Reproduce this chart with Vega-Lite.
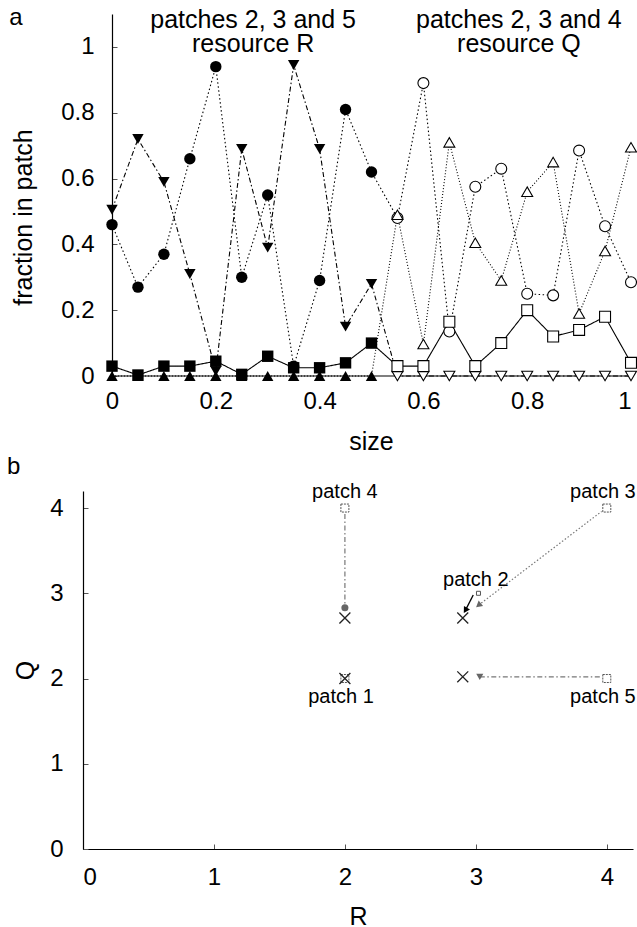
{
  "$schema": "https://vega.github.io/schema/vega-lite/v6.json",
  "background": "white",
  "padding": {"left": 7, "top": 5, "right": 0, "bottom": 0},
  "config": {
    "view": {"stroke": null},
    "font": "Liberation Sans",
    "axis": {"domainColor": "black", "domainWidth": 1.2, "tickColor": "#555", "tickSize": -5, "grid": false,
      "labelFont": "Liberation Sans", "labelFontSize": 24, "labelColor": "black",
      "titleFont": "Liberation Sans", "titleFontSize": 25, "titleFontWeight": "normal", "titleColor": "black"},
    "text": {"font": "Liberation Sans", "color": "black"}
  },
  "datasets": {
    "frac": [
      {"size": 0, "frac": 0.46, "series": "circle"}, {"size": 0.05, "frac": 0.27, "series": "circle"}, {"size": 0.1, "frac": 0.37, "series": "circle"}, {"size": 0.15, "frac": 0.66, "series": "circle"}, {"size": 0.2, "frac": 0.94, "series": "circle"}, {"size": 0.25, "frac": 0.30, "series": "circle"}, {"size": 0.3, "frac": 0.55, "series": "circle"}, {"size": 0.35, "frac": 0.03, "series": "circle"}, {"size": 0.4, "frac": 0.29, "series": "circle"}, {"size": 0.45, "frac": 0.81, "series": "circle"}, {"size": 0.5, "frac": 0.62, "series": "circle"}, {"size": 0.55, "frac": 0.48, "series": "circle"}, {"size": 0.6, "frac": 0.89, "series": "circle"}, {"size": 0.65, "frac": 0.135, "series": "circle"}, {"size": 0.7, "frac": 0.575, "series": "circle"}, {"size": 0.75, "frac": 0.63, "series": "circle"}, {"size": 0.8, "frac": 0.25, "series": "circle"}, {"size": 0.85, "frac": 0.245, "series": "circle"}, {"size": 0.9, "frac": 0.685, "series": "circle"}, {"size": 0.95, "frac": 0.455, "series": "circle"}, {"size": 1, "frac": 0.285, "series": "circle"},
      {"size": 0, "frac": 0.505, "series": "triangle-down"}, {"size": 0.05, "frac": 0.72, "series": "triangle-down"}, {"size": 0.1, "frac": 0.59, "series": "triangle-down"}, {"size": 0.15, "frac": 0.31, "series": "triangle-down"}, {"size": 0.2, "frac": 0.015, "series": "triangle-down"}, {"size": 0.25, "frac": 0.69, "series": "triangle-down"}, {"size": 0.3, "frac": 0.39, "series": "triangle-down"}, {"size": 0.35, "frac": 0.945, "series": "triangle-down"}, {"size": 0.4, "frac": 0.69, "series": "triangle-down"}, {"size": 0.45, "frac": 0.15, "series": "triangle-down"}, {"size": 0.5, "frac": 0.28, "series": "triangle-down"}, {"size": 0.55, "frac": 0, "series": "triangle-down"}, {"size": 0.6, "frac": 0, "series": "triangle-down"}, {"size": 0.65, "frac": 0, "series": "triangle-down"}, {"size": 0.7, "frac": 0, "series": "triangle-down"}, {"size": 0.75, "frac": 0, "series": "triangle-down"}, {"size": 0.8, "frac": 0, "series": "triangle-down"}, {"size": 0.85, "frac": 0, "series": "triangle-down"}, {"size": 0.9, "frac": 0, "series": "triangle-down"}, {"size": 0.95, "frac": 0, "series": "triangle-down"}, {"size": 1, "frac": 0, "series": "triangle-down"},
      {"size": 0, "frac": 0.03, "series": "square"}, {"size": 0.05, "frac": 0.003, "series": "square"}, {"size": 0.1, "frac": 0.03, "series": "square"}, {"size": 0.15, "frac": 0.03, "series": "square"}, {"size": 0.2, "frac": 0.045, "series": "square"}, {"size": 0.25, "frac": 0.005, "series": "square"}, {"size": 0.3, "frac": 0.06, "series": "square"}, {"size": 0.35, "frac": 0.025, "series": "square"}, {"size": 0.4, "frac": 0.025, "series": "square"}, {"size": 0.45, "frac": 0.04, "series": "square"}, {"size": 0.5, "frac": 0.10, "series": "square"}, {"size": 0.55, "frac": 0.03, "series": "square"}, {"size": 0.6, "frac": 0.03, "series": "square"}, {"size": 0.65, "frac": 0.165, "series": "square"}, {"size": 0.7, "frac": 0.03, "series": "square"}, {"size": 0.75, "frac": 0.10, "series": "square"}, {"size": 0.8, "frac": 0.20, "series": "square"}, {"size": 0.85, "frac": 0.12, "series": "square"}, {"size": 0.9, "frac": 0.14, "series": "square"}, {"size": 0.95, "frac": 0.18, "series": "square"}, {"size": 1, "frac": 0.04, "series": "square"},
      {"size": 0, "frac": 0, "series": "triangle-up"}, {"size": 0.05, "frac": 0, "series": "triangle-up"}, {"size": 0.1, "frac": 0, "series": "triangle-up"}, {"size": 0.15, "frac": 0, "series": "triangle-up"}, {"size": 0.2, "frac": 0, "series": "triangle-up"}, {"size": 0.25, "frac": 0, "series": "triangle-up"}, {"size": 0.3, "frac": 0, "series": "triangle-up"}, {"size": 0.35, "frac": 0, "series": "triangle-up"}, {"size": 0.4, "frac": 0, "series": "triangle-up"}, {"size": 0.45, "frac": 0, "series": "triangle-up"}, {"size": 0.5, "frac": 0, "series": "triangle-up"}, {"size": 0.55, "frac": 0.49, "series": "triangle-up"}, {"size": 0.6, "frac": 0.097, "series": "triangle-up"}, {"size": 0.65, "frac": 0.71, "series": "triangle-up"}, {"size": 0.7, "frac": 0.405, "series": "triangle-up"}, {"size": 0.75, "frac": 0.29, "series": "triangle-up"}, {"size": 0.8, "frac": 0.56, "series": "triangle-up"}, {"size": 0.85, "frac": 0.65, "series": "triangle-up"}, {"size": 0.9, "frac": 0.19, "series": "triangle-up"}, {"size": 0.95, "frac": 0.38, "series": "triangle-up"}, {"size": 1, "frac": 0.695, "series": "triangle-up"}
    ],
    "arrows": [
      {"patch": "patch 4", "R": 2, "Q": 3.93}, {"patch": "patch 4", "R": 2, "Q": 2.83},
      {"patch": "patch 3", "R": 3.96, "Q": 3.96}, {"patch": "patch 3", "R": 3.02, "Q": 2.86},
      {"patch": "patch 2", "R": 2.98, "Q": 2.98}, {"patch": "patch 2", "R": 2.92, "Q": 2.8},
      {"patch": "patch 5", "R": 3.95, "Q": 2.02}, {"patch": "patch 5", "R": 3.03, "Q": 2.02}
    ]
  },
  "spacing": 0,
  "vconcat": [
    {
      "width": 548,
      "height": 362,
      "layer": [
        {
          "data": {"values": [{"size": 0, "size2": 1, "frac": 0}]},
          "mark": {"type": "rule", "color": "black", "strokeWidth": 1.2},
          "encoding": {
            "x": {"field": "size", "type": "quantitative", "scale": {"domain": [-0.05588, 1], "nice": false},
              "axis": {"title": "size", "values": [0, 0.2, 0.4, 0.6, 0.8, 1], "format": "~g", "domain": false, "labelPadding": 18, "titleX": 288, "titleY": 73, "titleBaseline": "alphabetic"}},
            "x2": {"field": "size2"},
            "y": {"field": "frac", "type": "quantitative", "scale": {"domain": [0, 1.1], "nice": false},
              "axis": {"title": "fraction in patch", "values": [0, 0.2, 0.4, 0.6, 0.8, 1], "format": "~g", "offset": -29, "labelPadding": 23, "titleX": -81, "titleY": 203, "titleBaseline": "alphabetic"}}
          }
        },
        {
          "data": {"name": "frac"},
          "mark": {"type": "line", "strokeWidth": 1.1, "color": "black"},
          "encoding": {
            "x": {"field": "size", "type": "quantitative"},
            "y": {"field": "frac", "type": "quantitative"},
            "detail": {"field": "series"},
            "strokeDash": {"field": "series", "type": "nominal",
              "scale": {"domain": ["circle", "triangle-down", "square", "triangle-up"], "range": [[1.5, 2.5], [5, 2.5, 1.5, 2.5], [1, 0], [1, 2]]}, "legend": null}
          }
        },
        {
          "data": {"name": "frac"},
          "transform": [{"filter": "datum.size <= 0.5"}],
          "mark": {"type": "point", "filled": true, "color": "black", "size": 130, "opacity": 1},
          "encoding": {
            "x": {"field": "size", "type": "quantitative"},
            "y": {"field": "frac", "type": "quantitative"},
            "shape": {"field": "series", "type": "nominal",
              "scale": {"domain": ["circle", "triangle-down", "square", "triangle-up"], "range": ["circle", "triangle-down", "square", "triangle-up"]}, "legend": null}
          }
        },
        {
          "data": {"name": "frac"},
          "transform": [{"filter": "datum.size >= 0.55"}],
          "mark": {"type": "point", "filled": false, "fill": "white", "fillOpacity": 1, "stroke": "black", "strokeWidth": 1.1, "size": 120, "opacity": 1},
          "encoding": {
            "x": {"field": "size", "type": "quantitative"},
            "y": {"field": "frac", "type": "quantitative"},
            "shape": {"field": "series", "type": "nominal",
              "scale": {"domain": ["circle", "triangle-down", "square", "triangle-up"], "range": ["circle", "triangle-down", "square", "triangle-up"]}, "legend": null}
          }
        },
        {
          "data": {"values": [
            {"size": 0.272, "frac": 1.058, "label": ["patches 2, 3 and 5", "resource R"]},
            {"size": 0.784, "frac": 1.058, "label": ["patches 2, 3 and 4", "resource Q"]}
          ]},
          "mark": {"type": "text", "align": "center", "baseline": "alphabetic", "fontSize": 25, "lineHeight": 24},
          "encoding": {
            "x": {"field": "size", "type": "quantitative"},
            "y": {"field": "frac", "type": "quantitative"},
            "text": {"field": "label"}
          }
        },
        {
          "data": {"values": [{"size": -0.198, "frac": 1.067, "label": "a"}]},
          "mark": {"type": "text", "align": "left", "baseline": "alphabetic", "fontSize": 24},
          "encoding": {
            "x": {"field": "size", "type": "quantitative"},
            "y": {"field": "frac", "type": "quantitative"},
            "text": {"field": "label"}
          }
        }
      ]
    },
    {
      "width": 550,
      "height": 358,
      "layer": [
        {
          "data": {"name": "arrows"},
          "transform": [{"filter": "datum.patch === 'patch 4' || datum.patch === 'patch 5'"}],
          "mark": {"type": "line", "strokeWidth": 1.2, "color": "#777777", "strokeDash": [5, 2.5, 1.5, 2.5]},
          "encoding": {
            "x": {"field": "R", "type": "quantitative", "scale": {"domain": [0, 4.2], "nice": false},
              "axis": {"title": "R", "values": [0, 1, 2, 3, 4], "format": "d", "labelPadding": 21, "titleY": 75, "titleBaseline": "alphabetic"}},
            "y": {"field": "Q", "type": "quantitative", "scale": {"domain": [0, 4.2], "nice": false},
              "axis": {"title": "Q", "values": [0, 1, 2, 3, 4], "format": "d", "labelPadding": 25, "titleX": -50, "titleBaseline": "alphabetic"}},
            "detail": {"field": "patch"}
          }
        },
        {
          "data": {"name": "arrows"},
          "transform": [{"filter": "datum.patch === 'patch 3'"}],
          "mark": {"type": "line", "strokeWidth": 1.2, "color": "#777777", "strokeDash": [1.5, 2]},
          "encoding": {
            "x": {"field": "R", "type": "quantitative"},
            "y": {"field": "Q", "type": "quantitative"}
          }
        },
        {
          "data": {"name": "arrows"},
          "transform": [{"filter": "datum.patch === 'patch 2'"}],
          "mark": {"type": "line", "strokeWidth": 1.3, "color": "black"},
          "encoding": {
            "x": {"field": "R", "type": "quantitative"},
            "y": {"field": "Q", "type": "quantitative"}
          }
        },
        {
          "data": {"values": [{"R": 2, "Q": 2.83, "patch": "patch 4"}, {"R": 3.03, "Q": 2.02, "patch": "patch 5"}]},
          "mark": {"type": "point", "filled": true, "color": "#666666", "size": 50, "opacity": 1},
          "encoding": {
            "x": {"field": "R", "type": "quantitative"},
            "y": {"field": "Q", "type": "quantitative"},
            "shape": {"field": "patch", "type": "nominal", "scale": {"domain": ["patch 4", "patch 5"], "range": ["triangle-down", "triangle-left"]}, "legend": null}
          }
        },
        {
          "data": {"values": [{"R": 3.02, "Q": 2.86}]},
          "mark": {"type": "point", "shape": "triangle-down", "angle": 51, "filled": true, "color": "#666666", "size": 50, "opacity": 1},
          "encoding": {"x": {"field": "R", "type": "quantitative"}, "y": {"field": "Q", "type": "quantitative"}}
        },
        {
          "data": {"values": [{"R": 2.92, "Q": 2.8}]},
          "mark": {"type": "point", "shape": "triangle-down", "angle": 31, "filled": true, "color": "black", "size": 50, "opacity": 1},
          "encoding": {"x": {"field": "R", "type": "quantitative"}, "y": {"field": "Q", "type": "quantitative"}}
        },
        {
          "data": {"values": [{"R": 2, "Q": 4}, {"R": 4, "Q": 4}, {"R": 4, "Q": 2}, {"R": 2, "Q": 2}]},
          "mark": {"type": "point", "shape": "square", "filled": false, "stroke": "#555555", "strokeWidth": 1, "strokeDash": [2, 1], "size": 64, "opacity": 1},
          "encoding": {"x": {"field": "R", "type": "quantitative"}, "y": {"field": "Q", "type": "quantitative"}}
        },
        {
          "data": {"values": [{"R": 3.02, "Q": 3.0}]},
          "mark": {"type": "point", "shape": "square", "filled": false, "stroke": "#555555", "strokeWidth": 1, "size": 16, "opacity": 1},
          "encoding": {"x": {"field": "R", "type": "quantitative"}, "y": {"field": "Q", "type": "quantitative"}}
        },
        {
          "data": {"values": [{"R": 2, "Q": 2}, {"R": 2, "Q": 2.71}, {"R": 2.9, "Q": 2.71}, {"R": 2.9, "Q": 2.02}]},
          "mark": {"type": "point", "shape": "M-1,-1L1,1M-1,1L1,-1", "filled": false, "stroke": "#222222", "strokeWidth": 1.3, "size": 120, "opacity": 1},
          "encoding": {"x": {"field": "R", "type": "quantitative"}, "y": {"field": "Q", "type": "quantitative"}}
        },
        {
          "data": {"values": [
            {"R": 2.0, "Q": 4.12, "label": "patch 4"},
            {"R": 3.97, "Q": 4.12, "label": "patch 3"},
            {"R": 3.0, "Q": 3.09, "label": "patch 2"},
            {"R": 1.97, "Q": 1.71, "label": "patch 1"},
            {"R": 3.97, "Q": 1.71, "label": "patch 5"}
          ]},
          "mark": {"type": "text", "align": "center", "baseline": "alphabetic", "fontSize": 20},
          "encoding": {
            "x": {"field": "R", "type": "quantitative"},
            "y": {"field": "Q", "type": "quantitative"},
            "text": {"field": "label"}
          }
        },
        {
          "data": {"values": [{"R": -0.58, "Q": 4.4, "label": "b"}]},
          "mark": {"type": "text", "align": "left", "baseline": "alphabetic", "fontSize": 24},
          "encoding": {
            "x": {"field": "R", "type": "quantitative"},
            "y": {"field": "Q", "type": "quantitative"},
            "text": {"field": "label"}
          }
        }
      ]
    }
  ]
}
